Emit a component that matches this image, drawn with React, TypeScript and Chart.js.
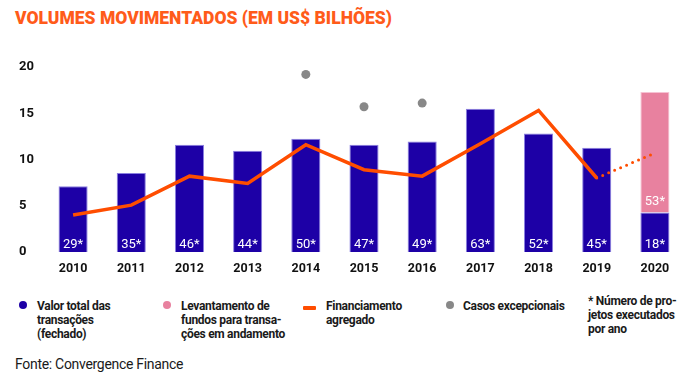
import React, { useEffect, useRef } from "react";
import { Chart, registerables } from "chart.js";

Chart.register(...registerables);

const years = ["2010", "2011", "2012", "2013", "2014", "2015", "2016", "2017", "2018", "2019", "2020"];
const closedValues = [7.1, 8.55, 11.6, 10.95, 12.25, 11.6, 11.95, 15.5, 12.8, 11.27, 4.27];
const closedCounts = ["29*", "35*", "46*", "44*", "50*", "47*", "49*", "63*", "52*", "45*", "18*"];
const raisingRange: ([number, number] | null)[] = [null, null, null, null, null, null, null, null, null, null, [4.27, 17.3]];
const raisingCounts = ["", "", "", "", "", "", "", "", "", "", "53*"];
const aggregated = [4.0, 5.07, 8.2, 7.4, 11.6, 8.9, 8.2, 11.7, 15.3, 8.0, null];
const aggregatedProjected = [null, null, null, null, null, null, null, null, null, 8.0, 10.7];
const exceptional = [null, null, null, null, 19.2, 15.7, 16.1, null, null, null, null];
const yTicks = [0, 5, 10, 15, 20];

const BLUE = "#1D00A6";
const PINK = "#E8819F";
const ORANGE = "#FF4D00";
const GRAY = "#888888";
const FONT = "Roboto, 'Noto Sans', sans-serif";

const barLabels = {
  id: "barLabels",
  afterDatasetsDraw(chart: any) {
    const ctx = chart.ctx;
    ctx.save();
    ctx.fillStyle = "#ffffff";
    ctx.font = `400 13px ${FONT}`;
    ctx.textAlign = "center";
    ctx.textBaseline = "middle";
    const m0 = chart.getDatasetMeta(0);
    m0.data.forEach((el: any, i: number) => {
      const t = closedCounts[i];
      if (t) ctx.fillText(t, el.x, el.base - 7.5);
    });
    const m1 = chart.getDatasetMeta(1);
    m1.data.forEach((el: any, i: number) => {
      const t = raisingCounts[i];
      if (t && raisingRange[i]) ctx.fillText(t, el.x, Math.max(el.base, el.y) - 11);
    });
    ctx.restore();
  },
};

function ChartCanvas() {
  const ref = useRef<HTMLCanvasElement | null>(null);
  useEffect(() => {
    if (!ref.current) return;
    const chart = new Chart(ref.current, {
      type: "bar",
      data: {
        labels: years,
        datasets: [
          {
            type: "bar",
            label: "Valor total das transações (fechado)",
            data: closedValues,
            backgroundColor: BLUE,
            borderColor: "#8A7FE0",
            borderWidth: 1,
            order: 3,
          } as any,
          {
            type: "bar",
            label: "Levantamento de fundos",
            data: raisingRange as any,
            backgroundColor: PINK,
            borderColor: "#F6C2D3",
            borderWidth: 1,
            order: 4,
          } as any,
          {
            type: "line",
            label: "Financiamento agregado",
            data: aggregated,
            borderColor: ORANGE,
            borderWidth: 3.5,
            pointRadius: 0,
            tension: 0,
            fill: false,
            order: 1,
          } as any,
          {
            type: "line",
            label: "Projetado",
            data: aggregatedProjected,
            borderColor: ORANGE,
            borderWidth: 3,
            borderDash: [0, 6.5],
            borderCapStyle: "round",
            pointRadius: 0,
            tension: 0,
            fill: false,
            order: 2,
          } as any,
          {
            type: "line",
            label: "Casos excepcionais",
            data: exceptional,
            showLine: false,
            pointRadius: 4.5,
            pointBackgroundColor: GRAY,
            pointBorderWidth: 0,
            order: 0,
          } as any,
        ],
      },
      options: {
        responsive: false,
        animation: false,
        devicePixelRatio: 1,
        layout: { padding: { left: 19, right: 12, top: 67, bottom: 0 } },
        plugins: { legend: { display: false }, tooltip: { enabled: false }, title: { display: false } },
        datasets: { bar: { categoryPercentage: 1, barPercentage: 0.5 } },
        scales: {
          x: {
            stacked: true,
            grid: { display: false, drawTicks: false },
            border: { display: false },
            ticks: { color: "#111", font: { family: FONT, weight: "bold", size: 12.5 }, padding: 9 },
            afterFit: (s: any) => {
              s.height = 29;
            },
          },
          y: {
            stacked: false,
            min: 0,
            max: 20,
            grid: { display: false, drawTicks: false },
            border: { display: false },
            afterBuildTicks: (s: any) => {
              s.ticks = yTicks.map((v) => ({ value: v }));
            },
            ticks: {
              color: "#111",
              font: { family: FONT, weight: "bold", size: 13 },
              crossAlign: "far",
              padding: 0,
            },
            afterFit: (s: any) => {
              s.width = 25;
            },
          },
        },
      } as any,
      plugins: [barLabels],
    });
    return () => chart.destroy();
  }, []);
  return <canvas ref={ref} width={696} height={281} style={{ position: "absolute", left: 0, top: 0 }} />;
}

const legendText: React.CSSProperties = {
  position: "absolute",
  fontFamily: FONT,
  fontWeight: 700,
  fontSize: 12,
  lineHeight: "14px",
  color: "#1a1a1a",
  letterSpacing: "-0.3px",
  whiteSpace: "nowrap",
};

function Dot({ x, y, color }: { x: number; y: number; color: string }) {
  return (
    <div
      style={{
        position: "absolute",
        left: x - 4,
        top: y - 4,
        width: 8,
        height: 8,
        borderRadius: 4,
        background: color,
      }}
    />
  );
}

export default function App() {
  return (
    <div style={{ position: "absolute", left: 0, top: 0, width: 696, height: 379, background: "#fff", overflow: "hidden" }}>
      <div
        style={{
          position: "absolute",
          left: 15,
          top: 8,
          fontFamily: FONT,
          fontWeight: 900,
          fontSize: 17.5,
          lineHeight: "20px",
          color: "#FF5B1A",
          letterSpacing: "0px",
          whiteSpace: "nowrap",
        }}
      >
        VOLUMES MOVIMENTADOS (EM US$ BILHÕES)
      </div>
      <ChartCanvas />
      <Dot x={23} y={305} color={BLUE} />
      <div style={{ ...legendText, left: 37, top: 299 }}>
        Valor total das
        <br />
        transações
        <br />
        (fechado)
      </div>
      <Dot x={167} y={305} color={PINK} />
      <div style={{ ...legendText, left: 181, top: 299 }}>
        Levantamento de
        <br />
        fundos para transa-
        <br />
        ções em andamento
      </div>
      <div style={{ position: "absolute", left: 303, top: 306, width: 13, height: 4, borderRadius: 1, background: ORANGE }} />
      <div style={{ ...legendText, left: 326, top: 299 }}>
        Financiamento
        <br />
        agregado
      </div>
      <Dot x={450} y={305} color={GRAY} />
      <div style={{ ...legendText, left: 463, top: 299 }}>Casos excepcionais</div>
      <div style={{ ...legendText, left: 588, top: 294 }}>
        * Número de pro-
        <br />
        jetos executados
        <br />
        por ano
      </div>
      <div
        style={{
          position: "absolute",
          left: 15,
          top: 356,
          fontFamily: FONT,
          fontWeight: 400,
          fontSize: 14,
          lineHeight: "17px",
          color: "#1a1a1a",
          letterSpacing: "-0.3px",
          whiteSpace: "nowrap",
        }}
      >
        Fonte: Convergence Finance
      </div>
    </div>
  );
}
